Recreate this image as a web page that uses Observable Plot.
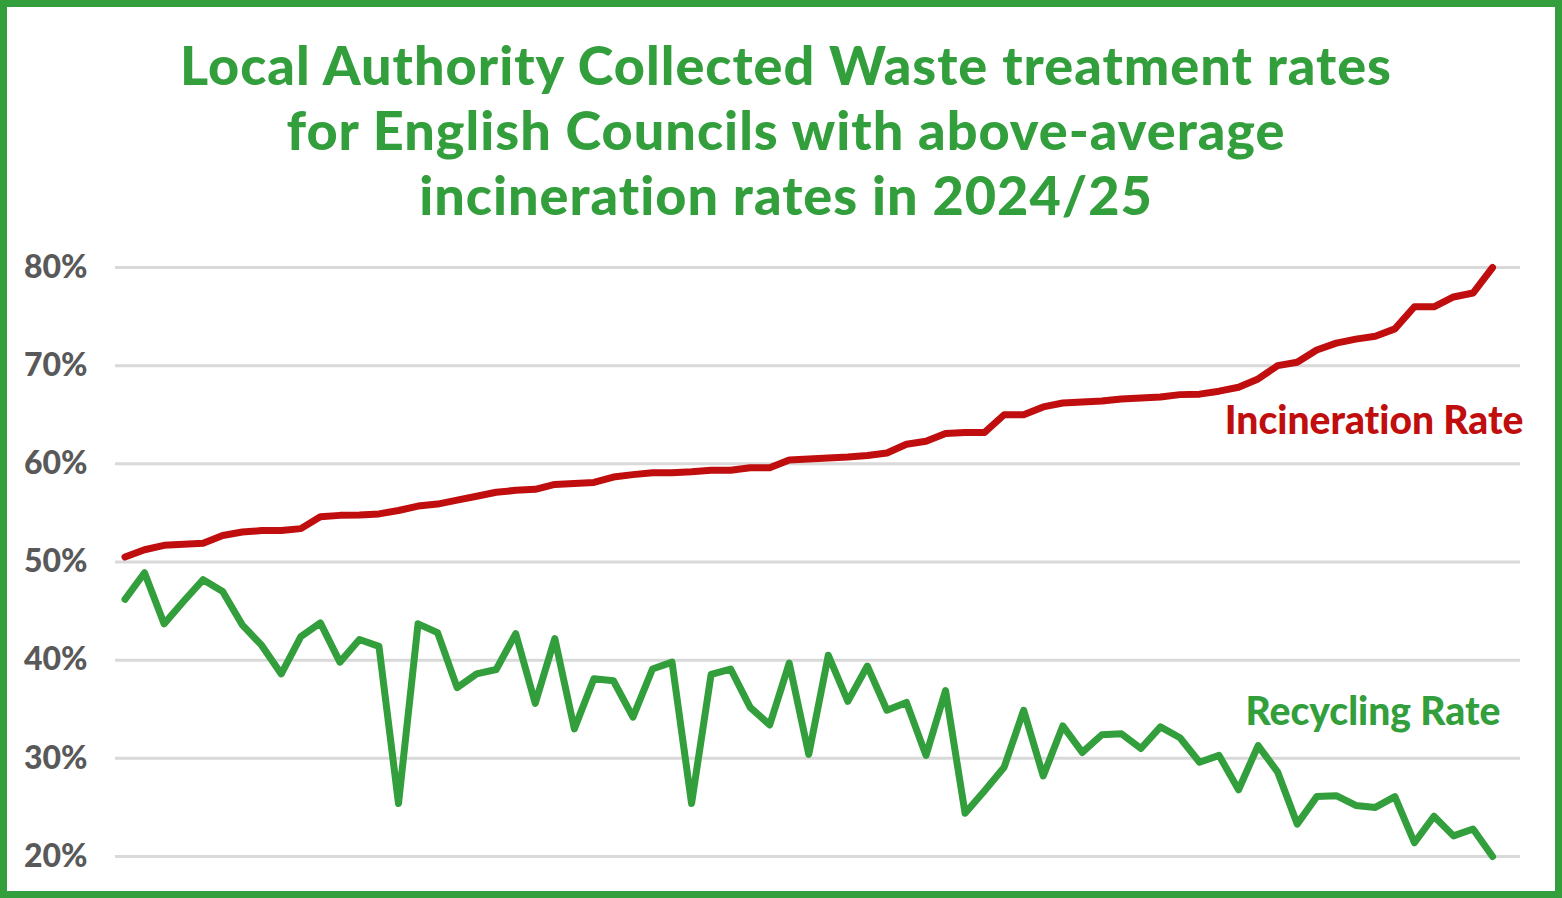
<!DOCTYPE html>
<html>
<head>
<meta charset="utf-8">
<script src="https://cdn.jsdelivr.net/npm/d3@7"></script>
<script src="https://cdn.jsdelivr.net/npm/@observablehq/plot@0.6"></script>
<style>
  html, body { margin: 0; padding: 0; background: #fff; }
  #wrap { position: relative; width: 1562px; height: 898px; overflow: hidden; font-family: Lato, "Open Sans", sans-serif; font-variant-ligatures: none; }
  #border { position: absolute; left: 0; top: 0; width: 1562px; height: 898px; box-sizing: border-box; border: 7px solid #339E3C; pointer-events: none; z-index: 3; }
  #title { position: absolute; left: 0; width: 1572px; top: 32px; text-align: center; color: #339E3C; font-weight: 900; font-size: 54px; letter-spacing: 1px; line-height: 65px; z-index: 2; }
  #chart { position: absolute; left: 0; top: 0; z-index: 1; }
  #chart svg text { font-variant-ligatures: none; }
</style>
</head>
<body>
<div id="wrap">
  <div id="title">Local Authority Collected Waste treatment rates<br>for English Councils with above-average<br>incineration rates in 2024/25</div>
  <div id="chart"></div>
  <div id="border"></div>
</div>
<script>
const incinerationRate = [50.5, 51.25, 51.7, 51.8, 51.9, 52.7, 53.05, 53.2, 53.2, 53.4, 54.6, 54.75, 54.8, 54.9, 55.25, 55.7, 55.9, 56.3, 56.7, 57.1, 57.3, 57.4, 57.9, 58.0,
  58.1, 58.65, 58.9, 59.1, 59.1, 59.2, 59.35, 59.35, 59.6, 59.6, 60.4, 60.5, 60.6, 60.7, 60.85, 61.1, 62.0, 62.3, 63.1, 63.2, 63.2,
  65.0, 65.0, 65.8, 66.2, 66.3, 66.4, 66.6, 66.7, 66.8, 67.05, 67.1, 67.4, 67.8, 68.65, 70.0, 70.35, 71.6, 72.3, 72.7, 73.0, 73.75, 76.0, 76.0, 77.0, 77.4, 80.0];
const recyclingRate = [46.2, 48.9, 43.7, 46.0, 48.2, 47.0, 43.6, 41.5, 38.6, 42.4, 43.8, 39.8, 42.1, 41.4, 25.4, 43.7, 42.8, 37.2, 38.6, 39.05, 42.7, 35.6, 42.2, 33.0,
  38.1, 37.9, 34.2, 39.1, 39.8, 25.4, 38.55, 39.1, 35.2, 33.4, 39.7, 30.4, 40.5, 35.8, 39.4, 34.9, 35.7, 30.3, 36.9, 24.4, 26.7, 29.1,
  34.9, 28.2, 33.3, 30.6, 32.4, 32.5, 31.0, 33.2, 32.1, 29.6, 30.3, 26.8, 31.3, 28.6, 23.3, 26.1, 26.2, 25.2, 25.0, 26.1, 21.4, 24.1, 22.1, 22.8, 20.0];
const yTicks = [20, 30, 40, 50, 60, 70, 80];
const seriesLabels = ["Incineration Rate", "Recycling Rate"];

const councils = d3.range(incinerationRate.length);
const RED = "#C00D0D", GREEN = "#339E3C";

const chart = Plot.plot({
  width: 1562,
  height: 898,
  marginLeft: 115,
  marginRight: 42,
  marginTop: 267,
  marginBottom: 42,
  style: { fontFamily: "Lato, 'Open Sans', sans-serif", background: "transparent", overflow: "visible" },
  x: { domain: [-0.486, 71.43], axis: null },
  y: { domain: [20, 80], axis: null },
  marks: [
    Plot.ruleY(yTicks, { stroke: "#d9d9d9", strokeWidth: 3 }),
    Plot.axisY(yTicks, { tickSize: 0, tickPadding: 28, tickFormat: d => d + "%", fontSize: 32, fontWeight: 900, fill: "#595959" }),
    Plot.line(councils, { x: d => d, y: d => incinerationRate[d], stroke: RED, strokeWidth: 7, strokeLinejoin: "round", strokeLinecap: "round" }),
    Plot.line(councils, { x: d => d, y: d => recyclingRate[d], stroke: GREEN, strokeWidth: 7, strokeLinejoin: "round", strokeLinecap: "round" }),
    Plot.text([seriesLabels[0]], { frameAnchor: "top-right", textAnchor: "end", lineAnchor: "bottom", dx: 3, dy: 166, fill: RED, fontSize: 39, fontWeight: 900 }),
    Plot.text([seriesLabels[1]], { frameAnchor: "top-right", textAnchor: "end", lineAnchor: "bottom", dx: -20, dy: 457, fill: GREEN, fontSize: 39, fontWeight: 900 })
  ]
});
document.getElementById("chart").appendChild(chart);
</script>
</body>
</html>
